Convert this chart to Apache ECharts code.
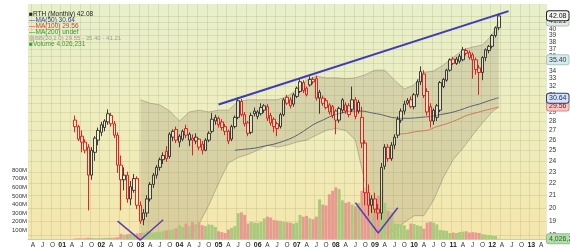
<!DOCTYPE html>
<html><head><meta charset="utf-8">
<script src="https://cdn.jsdelivr.net/npm/echarts@6/dist/echarts.min.js"></script>
<style>html,body{margin:0;padding:0;background:#fff}#c{width:570px;height:250px}</style>
</head><body><div id="c"></div>
<script>
// ---------- data ----------
const axisFirst = '2000-03';
const axisLast = '2013-05';
const firstCandle = '2001-05';
// monthly OHLC, May 2001 .. Mar 2012
const openP = [
 28.1,27.4,26.4,25.8,25.3,22.7,24.8,26.0,
 26.8,27.3,27.9,28.6,27.7,26.5,23.6,22.3,22.7,20.7,21.4,22.4,
 20.2,19.1,19.6,20.7,21.9,22.7,23.4,24.1,24.9,24.4,26.3,27.1,
 25.8,26.1,27.2,26.0,26.2,25.9,26.1,25.6,25.0,26.0,26.9,28.0,
 28.3,27.9,27.4,26.9,26.1,27.4,28.4,30.2,28.7,27.8,26.8,29.1,
 28.5,28.8,29.2,29.6,28.6,28.2,27.7,27.4,28.7,30.7,30.4,29.9,
 30.8,31.4,31.5,31.0,32.2,32.9,33.0,31.3,30.6,30.3,29.8,29.6,
 29.1,28.1,29.2,29.1,29.7,29.3,30.4,30.1,28.4,25.7,21.2,20.2,
 20.7,19.9,19.6,23.5,25.3,24.2,25.5,26.5,28.1,29.1,30.0,30.4,
 29.6,31.0,32.6,33.6,31.4,29.6,28.0,28.4,29.2,32.0,32.8,34.1,
 35.6,35.0,35.3,35.5,36.8,36.5,36.2,35.5,34.4,33.8,35.8,36.8,
 37.4,39.0,40.2];
const highP = [
 28.6,27.6,27.0,26.1,25.6,25.3,26.4,27.3,
 27.9,28.2,29.3,28.9,28.0,26.8,24.5,23.4,23.0,22.2,22.8,22.6,
 20.5,19.9,21.0,22.1,22.9,23.6,24.3,24.8,25.4,26.8,27.1,27.4,
 26.6,27.1,27.6,26.8,26.6,26.7,26.2,25.9,26.2,26.9,28.9,28.7,
 28.5,28.2,27.7,27.1,27.6,28.6,30.7,30.5,29.0,28.0,28.9,29.5,
 29.2,30.0,29.9,29.9,28.9,28.4,27.9,28.9,30.6,31.0,30.7,31.2,
 32.0,33.0,32.8,32.0,33.3,33.2,33.4,31.6,30.9,30.6,30.0,29.8,
 29.3,29.6,30.6,30.1,30.0,32.0,30.7,30.4,29.6,26.0,21.9,21.0,
 21.2,20.3,23.8,25.6,25.6,25.8,26.6,28.5,29.4,30.3,30.6,30.8,
 31.2,32.9,34.6,34.1,31.8,30.0,29.4,29.9,32.7,33.1,34.3,35.7,
 35.9,35.9,36.3,37.3,37.1,36.8,36.5,35.8,34.8,36.0,37.1,37.6,
 39.2,40.4,42.5];
const lowP = [
 26.8,25.9,24.8,24.7,19.8,22.3,24.0,25.5,
 26.4,26.9,27.6,27.4,26.2,22.9,19.8,21.4,20.4,20.2,21.2,19.9,
 18.8,18.7,19.3,20.5,21.6,22.4,23.1,23.7,23.9,24.2,25.9,25.7,
 25.3,25.9,26.2,25.4,24.5,25.6,25.0,24.6,24.9,25.8,26.7,27.6,
 27.3,27.0,26.5,25.6,25.9,27.2,28.2,28.5,27.4,26.4,26.6,28.5,
 28.2,28.6,28.9,28.0,27.5,26.8,26.4,27.2,28.5,29.8,29.4,29.6,
 30.6,31.2,31.2,30.8,32.0,32.3,30.3,28.8,29.7,29.3,28.7,28.3,
 26.6,27.8,28.9,28.8,28.4,29.0,28.2,28.8,25.2,20.2,19.4,19.6,
 19.6,19.1,19.1,23.2,23.9,24.0,25.1,26.2,27.8,28.7,29.8,29.4,
 29.3,30.7,32.2,30.6,28.6,27.3,27.6,28.0,29.0,31.8,32.6,33.9,
 34.8,34.8,35.0,35.3,36.1,35.5,33.0,33.5,31.0,32.8,35.3,36.4,
 37.1,38.7,39.8];
const closeP = [
 27.4,26.1,25.8,25.0,22.7,25.0,26.2,27.0,
 27.6,28.0,28.8,27.7,26.5,23.6,22.3,22.7,20.7,21.7,22.4,20.2,
 19.0,19.6,20.7,21.9,22.7,23.4,24.1,24.5,24.2,26.6,26.9,26.0,
 26.4,26.9,26.5,26.6,26.0,26.3,25.3,25.0,26.0,26.7,28.2,28.4,
 27.6,27.3,26.9,25.9,27.4,28.4,30.3,28.7,27.7,26.7,28.6,28.8,
 29.0,29.5,29.7,28.3,27.8,27.4,27.2,28.7,30.4,30.0,29.7,31.0,
 31.8,32.6,32.5,31.8,32.9,32.6,30.6,30.6,30.0,29.5,29.0,28.6,
 28.1,29.4,30.4,29.8,28.7,30.4,28.5,29.1,25.7,21.2,20.2,20.7,
 19.9,19.6,23.4,25.3,24.2,25.5,26.3,28.2,29.1,29.9,30.3,29.6,
 31.0,32.6,33.9,30.9,29.0,28.0,29.2,29.7,32.5,32.9,34.1,35.5,
 35.0,35.6,36.0,36.9,36.4,35.8,35.5,34.2,33.8,35.8,36.9,37.4,
 39.0,40.2,42.08];
// volume, millions of shares
const volM = [
 6,8,7,9,15,12,10,9,
 10,12,14,13,15,20,60,50,55,60,50,65,
 70,75,90,80,75,80,85,95,100,105,110,125,
 160,140,180,150,200,170,190,160,150,170,165,140,
 90,80,70,110,130,150,300,310,280,180,200,190,
 185,200,240,260,250,220,215,210,200,195,190,180,
 190,280,260,270,240,230,260,460,400,390,520,560,
 600,580,450,420,430,400,380,420,560,600,520,480,
 450,500,560,420,330,310,180,175,170,160,110,180,
 175,160,150,120,190,200,190,170,105,100,95,70,
 75,70,80,85,90,75,80,75,70,55,50,45,
 40,35,4];
// Bollinger Bands (20,2)
const bbMonths = ['2003-01','2003-04','2003-07','2003-10','2004-01','2004-04','2004-07','2004-10','2005-01','2005-04','2005-07','2005-10','2006-01','2006-04','2006-07','2006-10','2007-01','2007-04','2007-07','2007-10','2008-01','2008-04','2008-07','2008-10','2009-01','2009-04','2009-07','2009-10','2010-01','2010-04','2010-07','2010-10','2011-01','2011-04','2011-07','2011-10','2012-01','2012-03'];
const bbUpper = [30.4,30.0,29.8,29.1,28.0,29.0,29.2,29.0,29.2,29.2,30.2,30.4,30.4,30.4,30.4,30.8,31.6,32.8,33.3,33.1,33.1,33.0,33.1,33.5,34.1,34.1,32.8,31.7,32.2,33.8,34.0,34.8,35.8,36.9,37.3,37.6,39.1,41.21];
const bbLower = [15.5,15.8,16.3,16.8,17.3,17.8,18.8,20.2,22.0,23.8,24.3,24.6,25.0,25.5,25.3,25.5,25.8,26.0,26.5,27.0,27.2,27.0,26.0,22.0,18.6,18.0,18.3,18.9,19.4,19.4,20.6,22.5,24.1,25.2,26.5,27.8,29.0,29.55];
const ma50Months = ['2005-06','2005-09','2005-12','2006-03','2006-06','2006-09','2006-12','2007-03','2007-06','2007-09','2007-12','2008-03','2008-06','2008-09','2008-12','2009-03','2009-06','2009-09','2009-12','2010-03','2010-06','2010-09','2010-12','2011-03','2011-06','2011-09','2011-12','2012-03'];
const ma50Vals = [25.0,25.1,25.2,25.4,25.6,25.9,26.3,26.9,27.6,28.1,28.6,28.9,29.1,29.1,28.9,28.7,28.4,28.3,28.3,28.4,28.5,28.7,28.9,29.2,29.6,29.9,30.3,30.64];
const ma100Months = ['2009-08','2009-11','2010-02','2010-05','2010-08','2010-11','2011-02','2011-05','2011-08','2011-11','2012-03'];
const ma100Vals = [26.6,26.7,26.9,27.0,27.4,27.7,28.1,28.6,28.9,29.2,29.56];
const trendMonths = ['2005-01','2012-06'];
const trendVals = [29.85,42.87];
const vLeftMonths = ['2002-06','2003-01','2003-08'];
const vLeftVals = [19.0,17.65,19.1];
const vRightMonths = ['2008-07','2009-02','2009-08'];
const vRightVals = [20.4,18.14,20.0];
const priceTicks = [18,19,20,21,22,23,24,25,26,27,28,29,30,31,32,33,34,35,36,37,38,39,40,41,42];
const volTicks = [100,200,300,400,500,600,700,800];
const lastClose = 42.08, lastBBUp = 41.21, lastBBMid = 35.40, lastBBLow = 29.55, lastMA50 = 30.64, lastMA100 = 29.56, lastVol = '4,026,231';

// ---------- build ----------
const months = [];
(function(){ let [y,m] = axisFirst.split('-').map(Number); const [ey,em] = axisLast.split('-').map(Number);
  while (y < ey || (y === ey && m <= em)) { months.push(y + '-' + String(m).padStart(2,'0')); m++; if (m > 12) { m = 1; y++; } } })();
const L = Math.log;
const idx0 = months.indexOf(firstCandle);
const candleData = openP.map((o,i) => {
  const c = closeP[i], pc = i > 0 ? closeP[i-1] : o;
  const col = c >= pc ? '#2a2a2a' : '#e01010';
  return { value: [idx0+i, L(o), L(c), L(lowP[i]), L(highP[i])],
    itemStyle: { color: 'rgba(255,255,240,0.35)', color0: col, borderColor: col, borderColor0: col } };
});
const volData = volM.map((v,i) => {
  const c = closeP[i], pc = i > 0 ? closeP[i-1] : openP[i];
  return { value: [idx0+i, v], itemStyle: { color: c >= pc ? '#a9c97c' : '#e79a90' } };
});
const pairs = (ms, vs) => ms.map((d,i) => [d, L(vs[i])]);
const boxLabel = (txt, bg, border, color) => ({ show: true, position: 'end', distance: 1, formatter: txt, opacity: 1,
  backgroundColor: bg, borderColor: border, borderWidth: 1, borderRadius: 2, padding: [1,2,0,2],
  color: color, fontSize: 7, lineHeight: 8 });
const hiddenLine = { width: 0, color: 'rgba(0,0,0,0)', type: 'solid' };

const FONT = '"Liberation Sans", Arial, sans-serif';
const chart = echarts.init(document.getElementById('c'), null, { width: 570, height: 250 });
chart.setOption({
  animation: false,
  textStyle: { fontFamily: FONT },
  grid: { left: 28, right: 24, top: 4, bottom: 11, show: true, borderWidth: 0,
    backgroundColor: { type: 'linear', x: 0, y: 0, x2: 0, y2: 1,
      colorStops: [{ offset: 0, color: '#e7efcb' }, { offset: 0.5, color: '#eeedbf' }, { offset: 1, color: '#f5e6ac' }] } },
  xAxis: { type: 'category', data: months, boundaryGap: true,
    axisLine: { show: true, lineStyle: { color: '#c8c8c8' } }, axisTick: { show: false },
    axisLabel: { interval: 0, fontSize: 6.5, color: '#333', margin: 3,
      formatter: v => { const m = +v.slice(5); if (m === 1) return '{b|' + v.slice(2,4) + '}';
        return m === 4 ? 'A' : m === 7 ? 'J' : m === 10 ? 'O' : ''; },
      rich: { b: { fontWeight: 'bold', fontSize: 7, color: '#222' } } },
    splitLine: { show: true, interval: (i, v) => [1,4,7,10].indexOf(+String(months[i]).slice(5)) >= 0,
      lineStyle: { color: 'rgba(170,175,110,0.28)', width: 1 } } },
  yAxis: [
    { type: 'value', position: 'right', min: L(17.723), max: L(44.07), scale: true,
      axisLine: { show: false }, axisTick: { show: false, customValues: priceTicks.map(L) },
      axisLabel: { customValues: priceTicks.map(L), formatter: v => String(Math.round(Math.exp(v))),
        fontSize: 6.5, color: '#333', margin: 3 },
      splitLine: { show: true, lineStyle: { color: 'rgba(170,175,110,0.28)', width: 1 } } },
    { type: 'value', position: 'left', min: 0, max: 2733,
      axisLine: { show: false }, axisTick: { show: false, customValues: volTicks },
      axisLabel: { customValues: volTicks, formatter: v => v + 'M', fontSize: 6, color: '#333', margin: 1 },
      splitLine: { show: false } }
  ],
  graphic: [
    { type: 'text', x: 29, y: 14, z: 100, style: { text: '\u25A0RTH (Monthly) 42.08', fill: '#222', font: '6.5px ' + FONT, verticalAlign: 'middle' } },
    { type: 'text', x: 29, y: 20, z: 100, style: { text: '\u2014MA(50) 30.64', fill: '#2f45a8', font: '6.5px ' + FONT, verticalAlign: 'middle' } },
    { type: 'text', x: 29, y: 26, z: 100, style: { text: '\u2014MA(100) 29.56', fill: '#d03a2a', font: '6.5px ' + FONT, verticalAlign: 'middle' } },
    { type: 'text', x: 29, y: 32, z: 100, style: { text: '\u2014MA(200) undef', fill: '#2c9a2c', font: '6.5px ' + FONT, verticalAlign: 'middle' } },
    { type: 'text', x: 29, y: 38, z: 100, style: { text: '\u25A8BB(20,2.0) 29.55 - 35.40 - 41.21', fill: '#a09a90', font: '6px ' + FONT, verticalAlign: 'middle' } },
    { type: 'text', x: 29, y: 44, z: 100, style: { text: '\u25A0Volume 4,026,231', fill: '#3f9a3f', font: '6.5px ' + FONT, verticalAlign: 'middle' } }
  ],
  series: [
    { type: 'custom', name: 'BB', yAxisIndex: 0, clip: true, z: 1, silent: true,
      data: bbMonths.map((d,i) => [months.indexOf(d), L(bbUpper[i]), L(bbLower[i])]),
      encode: { x: 0, y: [1,2] },
      renderItem: (params, api) => {
        if (params.dataIndex !== 0) return null;
        const up = [], lo = [];
        for (let i = 0; i < bbMonths.length; i++) {
          const x = months.indexOf(bbMonths[i]);
          up.push(api.coord([x, L(bbUpper[i])]));
          lo.push(api.coord([x, L(bbLower[i])]));
        }
        return { type: 'group', children: [
          { type: 'polygon', shape: { points: up.concat(lo.slice().reverse()) }, style: { fill: 'rgba(150,140,112,0.27)' } },
          { type: 'polyline', shape: { points: up }, style: { stroke: 'rgba(125,120,100,0.55)', lineWidth: 0.8, fill: null } },
          { type: 'polyline', shape: { points: lo }, style: { stroke: 'rgba(125,120,100,0.55)', lineWidth: 0.8, fill: null } }
        ] };
      } },
    { type: 'bar', name: 'Volume', yAxisIndex: 1, z: 2, barWidth: 3, data: volData, silent: true, clip: false,
      markLine: { silent: true, symbol: ['none','none'], lineStyle: hiddenLine,
        data: [{ yAxis: 4.03, lineStyle: hiddenLine, label: boxLabel(lastVol, '#b6dcae', '#8cc08a', '#1f6a1f') }] } },
    { type: 'line', name: 'MA50', yAxisIndex: 0, z: 3, data: pairs(ma50Months, ma50Vals), symbol: 'none', smooth: 0.3,
      lineStyle: { color: '#5b6275', width: 1 } },
    { type: 'line', name: 'MA100', yAxisIndex: 0, z: 3, data: pairs(ma100Months, ma100Vals), symbol: 'none', smooth: 0.3,
      lineStyle: { color: '#cc7a60', width: 1 } },
    { type: 'candlestick', name: 'RTH', yAxisIndex: 0, z: 4, barWidth: 3, data: candleData,
      encode: { x: 0, y: [1,2,3,4] }, itemStyle: { borderWidth: 0.9 } },
    { type: 'line', name: 'trend', yAxisIndex: 0, z: 5, clip: false, data: pairs(trendMonths, trendVals), symbol: 'none',
      lineStyle: { color: '#3b3bbf', width: 2 },
      markLine: { silent: true, symbol: ['none','none'], lineStyle: hiddenLine,
        data: [
          { yAxis: L(lastBBMid), lineStyle: hiddenLine, label: boxLabel('35.40', '#d6ecea', '#a8c8c8', '#335') },
          { yAxis: L(lastBBUp), lineStyle: hiddenLine, label: boxLabel('41.21', '#e2e8e4', '#b8c0bc', '#444') },
          { yAxis: L(lastMA100), lineStyle: hiddenLine, label: boxLabel('29.56', '#f4c8c4', '#d88880', '#702020') },
          { yAxis: L(lastMA50), lineStyle: hiddenLine, label: boxLabel('30.64', '#d8e2f2', '#2f3f80', '#1f2f70') },
          { yAxis: L(lastClose), lineStyle: hiddenLine, label: boxLabel('42.08', '#f2f4f0', '#222', '#111') }
        ] } },
    { type: 'line', name: 'vL', yAxisIndex: 0, z: 5, clip: false, data: pairs(vLeftMonths, vLeftVals), symbol: 'none',
      lineStyle: { color: '#5a3cb8', width: 1.5 } },
    { type: 'line', name: 'vR', yAxisIndex: 0, z: 5, clip: false, data: pairs(vRightMonths, vRightVals), symbol: 'none',
      lineStyle: { color: '#5a3cb8', width: 1.5 } }
  ]
});
</script></body></html>
